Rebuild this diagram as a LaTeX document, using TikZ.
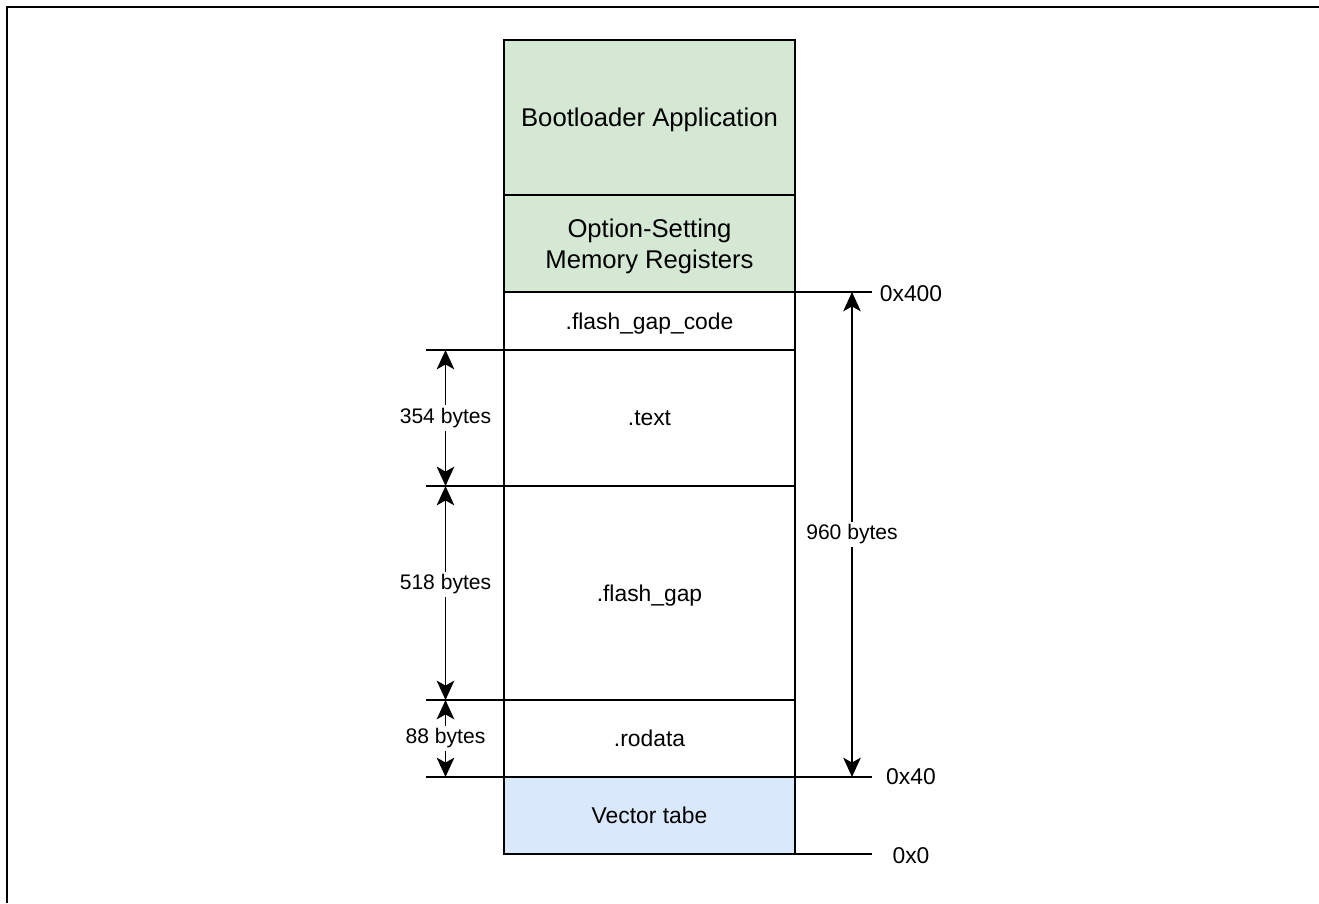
\documentclass[tikz,border=0pt]{standalone}
\usepackage{fontspec}
\setmainfont{Liberation Sans}
\usetikzlibrary{positioning,arrows.meta}
\definecolor{bootgreen}{RGB}{213,232,212}
\definecolor{vecblue}{RGB}{218,232,252}

\begin{document}
\begin{tikzpicture}[
    x=1cm,
    y=1cm,
    line cap=butt,
    seg/.style={draw, line width=1.1pt, minimum width=5.82cm, inner sep=0pt,
        outer sep=0pt, align=center, text depth=0pt,
        font=\fontsize{13}{16}\selectfont},
    big/.style={font=\fontsize{14.6}{17.6}\selectfont},
    tick/.style={line width=1.1pt},
    dim/.style={line width=1.1pt,
        {Stealth[length=11pt,width=10pt,inset=2.8pt]}-{Stealth[length=11pt,width=10pt,inset=2.8pt]}},
    dimlabel/.style={fill=white, inner sep=1.7pt, font=\fontsize{12}{14}\selectfont},
    addr/.style={font=\fontsize{13}{16}\selectfont}
]
\useasboundingbox (0,0) rectangle (26.38,18.06);

% Outer frame (top and left only)
\draw[line width=1.4pt] (0.14,0) -- (0.14,17.92) -- (26.38,17.92);

% Memory blocks, top to bottom
\node[seg, big, fill=bootgreen, minimum height=3.10cm] (boot) at (12.99,15.71) {Bootloader Application};
\node[seg, big, fill=bootgreen, minimum height=1.94cm, below=0pt of boot] (optreg) {Option-Setting\\Memory Registers};
\node[seg, minimum height=1.16cm, below=0pt of optreg] (gapcode) {.flash\_gap\_code};
\node[seg, minimum height=2.72cm, below=0pt of gapcode] (text) {.text};
\node[seg, minimum height=4.28cm, below=0pt of text] (gap) {.flash\_gap};
\node[seg, minimum height=1.54cm, below=0pt of gap] (rodata) {.rodata};
\node[seg, fill=vecblue, minimum height=1.54cm, below=0pt of rodata] (vector) {Vector tabe};

% Columns for ticks and arrows
\coordinate (leftend)  at (8.52,0);
\coordinate (leftdim)  at (8.91,0);
\coordinate (rightdim) at (17.04,0);
\coordinate (rightend) at (17.44,0);
\coordinate (addrcol)  at (18.22,0);

% Left ticks
\foreach \n in {gapcode,text,gap,rodata}{
    \draw[tick] (\n.south west) -- (\n.south west -| leftend);
}

% Right ticks
\foreach \n in {optreg,rodata,vector}{
    \draw[tick] (\n.south east) -- (\n.south east -| rightend);
}

% Addresses
\node[addr] (a400) at ([yshift=-0.03cm]optreg.south -| addrcol) {0x400};
\node[addr] (a40)  at (rodata.south -| addrcol) {0x40};
\node[addr] (a0)   at ([yshift=-0.03cm]vector.south -| addrcol) {0x0};

% Section sizes
\draw[dim] (text.north -| leftdim) -- (text.south -| leftdim)
    node[dimlabel, midway] (s354) {354 bytes};
\draw[dim] (gap.north -| leftdim) -- (gap.south -| leftdim)
    node[dimlabel, pos=0.46] (s518) {518 bytes};
\draw[dim] (rodata.north -| leftdim) -- (rodata.south -| leftdim)
    node[dimlabel, midway] (s88) {88 bytes};
\draw[dim] (optreg.south -| rightdim) -- (rodata.south -| rightdim)
    node[dimlabel, midway] (s960) {960 bytes};

\end{tikzpicture}
\end{document}
